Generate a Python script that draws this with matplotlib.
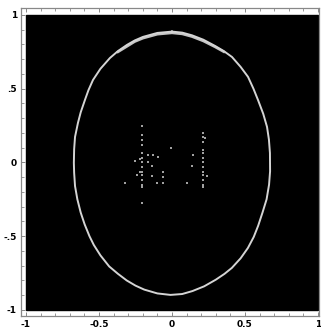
import numpy as np
import matplotlib
matplotlib.use("Agg")
import matplotlib.pyplot as plt
from matplotlib.patches import Rectangle
from matplotlib.ticker import MultipleLocator

# outer ring of the section (x, y), going round once
ring_x = [0.000, -0.100, -0.199, -0.255, -0.308, -0.370, -0.425, -0.490, -0.541, -0.572,
          -0.596, -0.625, -0.644, -0.664, -0.670, -0.672,
          -0.670, -0.664, -0.648, -0.625, -0.598, -0.565, -0.535, -0.490, -0.430, -0.370,
          -0.310, -0.250, -0.190, -0.100, -0.010,
          0.070, 0.140, 0.220, 0.300, 0.360, 0.410, 0.470, 0.520, 0.560, 0.590,
          0.620, 0.648, 0.665, 0.672,
          0.671, 0.664, 0.651, 0.625, 0.589, 0.558, 0.521, 0.470, 0.411, 0.355,
          0.295, 0.215, 0.137, 0.070, 0.000]
ring_y = [0.887, 0.878, 0.851, 0.827, 0.797, 0.755, 0.708, 0.635, 0.559, 0.490,
          0.424, 0.340, 0.268, 0.173, 0.090, -0.003,
          -0.070, -0.160, -0.250, -0.340, -0.420, -0.500, -0.560, -0.630, -0.705, -0.755,
          -0.800, -0.835, -0.862, -0.888, -0.898,
          -0.892, -0.872, -0.840, -0.795, -0.755, -0.715, -0.650, -0.580, -0.505, -0.430,
          -0.340, -0.250, -0.150, -0.060,
          0.064, 0.155, 0.241, 0.330, 0.424, 0.500, 0.580, 0.648, 0.715, 0.755,
          0.790, 0.832, 0.862, 0.880, 0.887]

# the ring is thicker near the top
band_x = [-0.370, -0.255, -0.199, -0.100, 0.000, 0.070, 0.137, 0.215, 0.295, 0.355]
band_y = [0.749, 0.819, 0.842, 0.869, 0.878, 0.871, 0.853, 0.823, 0.783, 0.750]

# scattered points in the middle
inner_x = [-0.208] * 14 + [0.210] * 13 + [
    -0.009, -0.162, -0.128, -0.094, -0.253, -0.219, -0.162, -0.139, -0.060, -0.060,
    -0.060, -0.105, -0.139, -0.219, -0.242, -0.322, 0.105, 0.146, 0.135, 0.242, 0.226]
inner_y = [0.247, 0.186, 0.153, 0.119, 0.064, 0.031, 0.003, -0.031, -0.064, -0.085,
           -0.119, -0.153, -0.166, -0.275,
           0.200, 0.173, 0.139, 0.085, 0.064, 0.031, 0.003, -0.031, -0.064, -0.085,
           -0.119, -0.153, -0.166,
           0.096, 0.051, 0.051, 0.039, 0.010, 0.022, 0.005, -0.024, -0.062, -0.096,
           -0.141, -0.137, -0.092, -0.062, -0.085, -0.137, -0.137, 0.051, -0.024, -0.092, 0.164]

plot_range = (-1, 1)
ticks = [-1, -0.5, 0, 0.5, 1]
xtick_labels = ["-1", "-0.5", "0", "0.5", "1"]
ytick_labels = ["-1", "-.5", "0", ".5", "1"]

fig = plt.figure(figsize=(3.21, 3.29), dpi=100)
ax = fig.add_axes([21 / 321, 13 / 329, 298 / 321, 308 / 329])

lo, hi = plot_range
ax.add_patch(Rectangle((lo, lo), hi - lo, hi - lo, color="black", zorder=0))
ax.plot(band_x, band_y, color="#c4c4c4", lw=1.8, zorder=2)
ax.plot(ring_x, ring_y, color="#d4d4d4", lw=1.4, zorder=2)
ax.scatter(inner_x, inner_y, s=1.8, marker="s", color="#a0a0a0", lw=0, zorder=3)

ax.set_xlim(-1.034, 1.007)
ax.set_ylim(-1.041, 1.047)
ax.set_xticks(ticks)
ax.set_xticklabels(xtick_labels)
ax.set_yticks(ticks)
ax.set_yticklabels(ytick_labels)
ax.xaxis.set_minor_locator(MultipleLocator(0.1))
ax.yaxis.set_minor_locator(MultipleLocator(0.1))
ax.tick_params(which="both", direction="in", top=True, right=False, color="#888888",
               labelsize=6.5, pad=3)
ax.tick_params(which="major", length=3, width=0.7)
ax.tick_params(which="minor", length=2, width=0.6)
for lab in ax.get_xticklabels() + ax.get_yticklabels():
    lab.set_fontweight("bold")
for sp in ax.spines.values():
    sp.set_color("#888888")
    sp.set_linewidth(0.9)

fig.savefig("out.png", dpi=100)
